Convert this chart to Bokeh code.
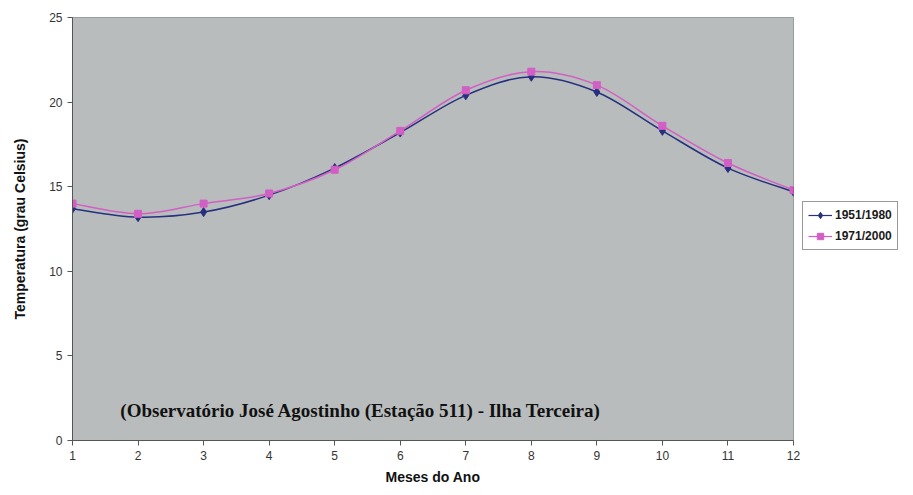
from bokeh.plotting import figure
from bokeh.models import Legend, LegendItem, Label, FixedTicker, Range1d
from bokeh.embed import file_html
from bokeh.resources import INLINE

months = [1, 2, 3, 4, 5, 6, 7, 8, 9, 10, 11, 12]
serie_1951 = [13.7, 13.2, 13.5, 14.5, 16.1, 18.2, 20.4, 21.5, 20.6, 18.3, 16.1, 14.7]
serie_1971 = [14.0, 13.4, 14.0, 14.6, 16.0, 18.3, 20.7, 21.8, 21.0, 18.6, 16.4, 14.8]
label_1951 = "1951/1980"
label_1971 = "1971/2000"
y_ticks = [0, 5, 10, 15, 20, 25]

NAVY = "#26307e"
PINK = "#d25fc4"
BG = "#b9bcbd"

p = figure(frame_width=721, frame_height=423, output_backend="svg", toolbar_location=None,
           x_range=Range1d(1, 12), y_range=Range1d(0, 25),
           min_border_left=72, min_border_right=104, min_border_top=17,
           min_border_bottom=39)
p.background_fill_color = BG
p.border_fill_color = "white"
p.outline_line_color = "#9a9d9e"
p.xgrid.visible = False
p.ygrid.visible = False


def bezier_segments(xs, ys):
    n = len(xs)
    x0, y0, x1, y1, cx0, cy0, cx1, cy1 = [], [], [], [], [], [], [], []
    for i in range(n - 1):
        xp, yp = (xs[i - 1], ys[i - 1]) if i > 0 else (xs[i], ys[i])
        xn, yn = (xs[i + 2], ys[i + 2]) if i + 2 < n else (xs[i + 1], ys[i + 1])
        x0.append(xs[i]); y0.append(ys[i])
        x1.append(xs[i + 1]); y1.append(ys[i + 1])
        cx0.append(xs[i] + (xs[i + 1] - xp) / 6.0)
        cy0.append(ys[i] + (ys[i + 1] - yp) / 6.0)
        cx1.append(xs[i + 1] - (xn - xs[i]) / 6.0)
        cy1.append(ys[i + 1] - (yn - ys[i]) / 6.0)
    return dict(x0=x0, y0=y0, x1=x1, y1=y1, cx0=cx0, cy0=cy0, cx1=cx1, cy1=cy1)


b1 = p.bezier(line_color=NAVY, line_width=1.5, **bezier_segments(months, serie_1951))
b2 = p.bezier(line_color=PINK, line_width=1.5, **bezier_segments(months, serie_1971))
m1 = p.scatter(months, serie_1951, marker="diamond", size=9, fill_color=NAVY, line_color=NAVY)
m2 = p.scatter(months, serie_1971, marker="square", size=7, fill_color=PINK, line_color=PINK)

# legend proxies (a single point: draws nothing on the plot)
l1 = p.line([months[0]], [serie_1951[0]], line_color=NAVY, line_width=1.2)
l2 = p.line([months[0]], [serie_1971[0]], line_color=PINK, line_width=1.2)

legend = Legend(items=[LegendItem(label=label_1951, renderers=[l1, m1]),
                       LegendItem(label=label_1971, renderers=[l2, m2])],
                location=(9, 190))
legend.label_text_font = "Liberation Sans"
legend.label_text_font_style = "bold"
legend.label_text_font_size = "12px"
legend.label_text_color = "#1a1a1a"
legend.border_line_color = "#333333"
legend.border_line_width = 1
legend.background_fill_color = "white"
legend.background_fill_alpha = 1
legend.glyph_width = 24
legend.glyph_height = 16
legend.spacing = 5
legend.padding = 5
legend.margin = 0
legend.label_standoff = 3
p.add_layout(legend, "right")

ann = Label(x=1.73, y=1.8, text="(Observatório José Agostinho (Estação 511) - Ilha Terceira)",
            text_font="Liberation Serif", text_font_style="bold", text_font_size="19px",
            text_color="#111111", text_baseline="middle")
p.add_layout(ann)

p.xaxis.ticker = FixedTicker(ticks=months)
p.yaxis.ticker = FixedTicker(ticks=y_ticks)
for ax in (p.xaxis, p.yaxis):
    ax.axis_line_color = "#555555"
    ax.major_tick_line_color = "#555555"
    ax.minor_tick_line_color = None
    ax.major_tick_in = 0
    ax.major_tick_out = 5
    ax.major_label_text_font = "Liberation Sans"
    ax.major_label_text_font_size = "12px"
    ax.major_label_text_color = "#333333"
    ax.axis_label_text_font = "Liberation Sans"
    ax.axis_label_text_font_style = "bold"
    ax.axis_label_text_font_size = "14px"
    ax.axis_label_text_color = "#111111"
p.xaxis.axis_label = "Meses do Ano"
p.yaxis.axis_label = "Temperatura (grau Celsius)"
p.xaxis.axis_label_standoff = 6
p.yaxis.axis_label_standoff = 18

open("out.html", "w").write(file_html(p, INLINE))
